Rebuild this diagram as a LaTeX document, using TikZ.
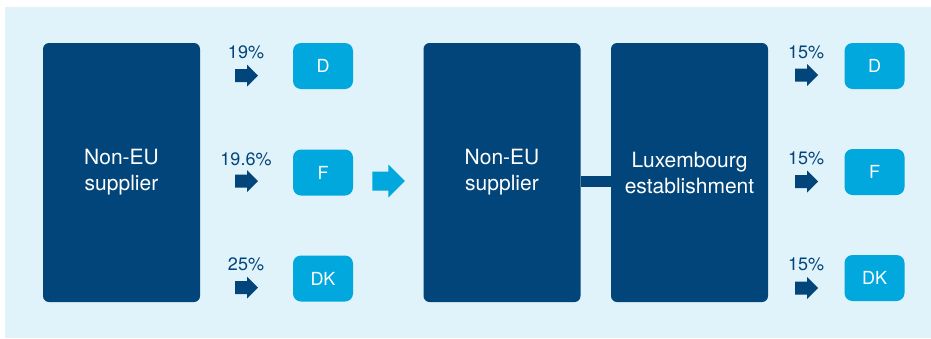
\documentclass[tikz,border=0pt]{standalone}
\usepackage{fontspec}
\setmainfont{TeX Gyre Heros}
\usepackage{xcolor}
\usetikzlibrary{positioning}

\definecolor{boxnavy}{RGB}{2,69,122}
\definecolor{boxcyan}{RGB}{0,168,222}
\definecolor{panelblue}{RGB}{224,242,250}

% filled block arrow: colour, centre, shaft length, shaft half width, head half width
\newcommand{\blockarrow}[5]{%
  \fill[#1] (#2) ++({-(#3+#5)/2},{-#4}) -- ++(#3,0) -- ++(0,{-(#5-#4)})
    -- ++(#5,#5) -- ++(-#5,#5) -- ++(0,{-(#5-#4)}) -- ++(-#3,0) -- cycle;}

\begin{document}
\begin{tikzpicture}[x=1pt, y=-1pt,
		bigbox/.style={fill=boxnavy, rounded corners=6pt, text=white, align=center,
			minimum width=157pt, minimum height=259pt, font=\fontsize{21}{26}\selectfont},
		country/.style={fill=boxcyan, rounded corners=8pt, text=white,
			minimum width=60pt, minimum height=46pt, font=\fontsize{18}{20}\selectfont},
		rate/.style={text=boxnavy, anchor=base, inner sep=0pt, font=\fontsize{18}{20}\selectfont}]
		\useasboundingbox (0,0) rectangle (931,338);
		%
		%panel
		\fill[panelblue] (5,7) rectangle (931,338);
		%
		%before: supplier sells directly
		\node[bigbox] (supA) at (121.5,172.5) {Non-EU\\supplier};
		\node[country] (deA) at (323,66) {D};
		\node[country] (frA) at (323,172.5) {F};
		\node[country] (dkA) at (323,278.5) {DK};
		\node[rate] (rdeA) at (246,58) {19\%};
		\node[rate] (rfrA) at (246,165) {19.6\%};
		\node[rate] (rdkA) at (246,270) {25\%};
		\blockarrow{boxnavy}{246.5,75.5}{12}{6.5}{11}
		\blockarrow{boxnavy}{246.5,181}{12}{6.5}{11}
		\blockarrow{boxnavy}{246.5,287.5}{12}{6.5}{11}
		%
		%change over
		\blockarrow{boxcyan}{388.5,181}{16}{9.5}{16.5}
		%
		%after: supplier with Luxembourg establishment
		\node[bigbox] (supB) at (502,172.5) {Non-EU\\supplier};
		\node[bigbox] (lux) at (689.5,172.5) {Luxembourg\\establishment};
		\draw[boxnavy, line width=11pt] ([yshift=-9pt]supB.east) -- ([yshift=-9pt]lux.west);
		\node[country] (deB) at (874.5,66) {D};
		\node[country] (frB) at (874.5,172) {F};
		\node[country] (dkB) at (874.5,278) {DK};
		\node[rate] (rdeB) at (806,58) {15\%};
		\node[rate] (rfrB) at (806,164) {15\%};
		\node[rate] (rdkB) at (806,270) {15\%};
		\blockarrow{boxnavy}{806.5,75}{12}{6.5}{11}
		\blockarrow{boxnavy}{806.5,181.5}{12}{6.5}{11}
		\blockarrow{boxnavy}{806.5,288}{12}{6.5}{11}
	\end{tikzpicture}
\end{document}
